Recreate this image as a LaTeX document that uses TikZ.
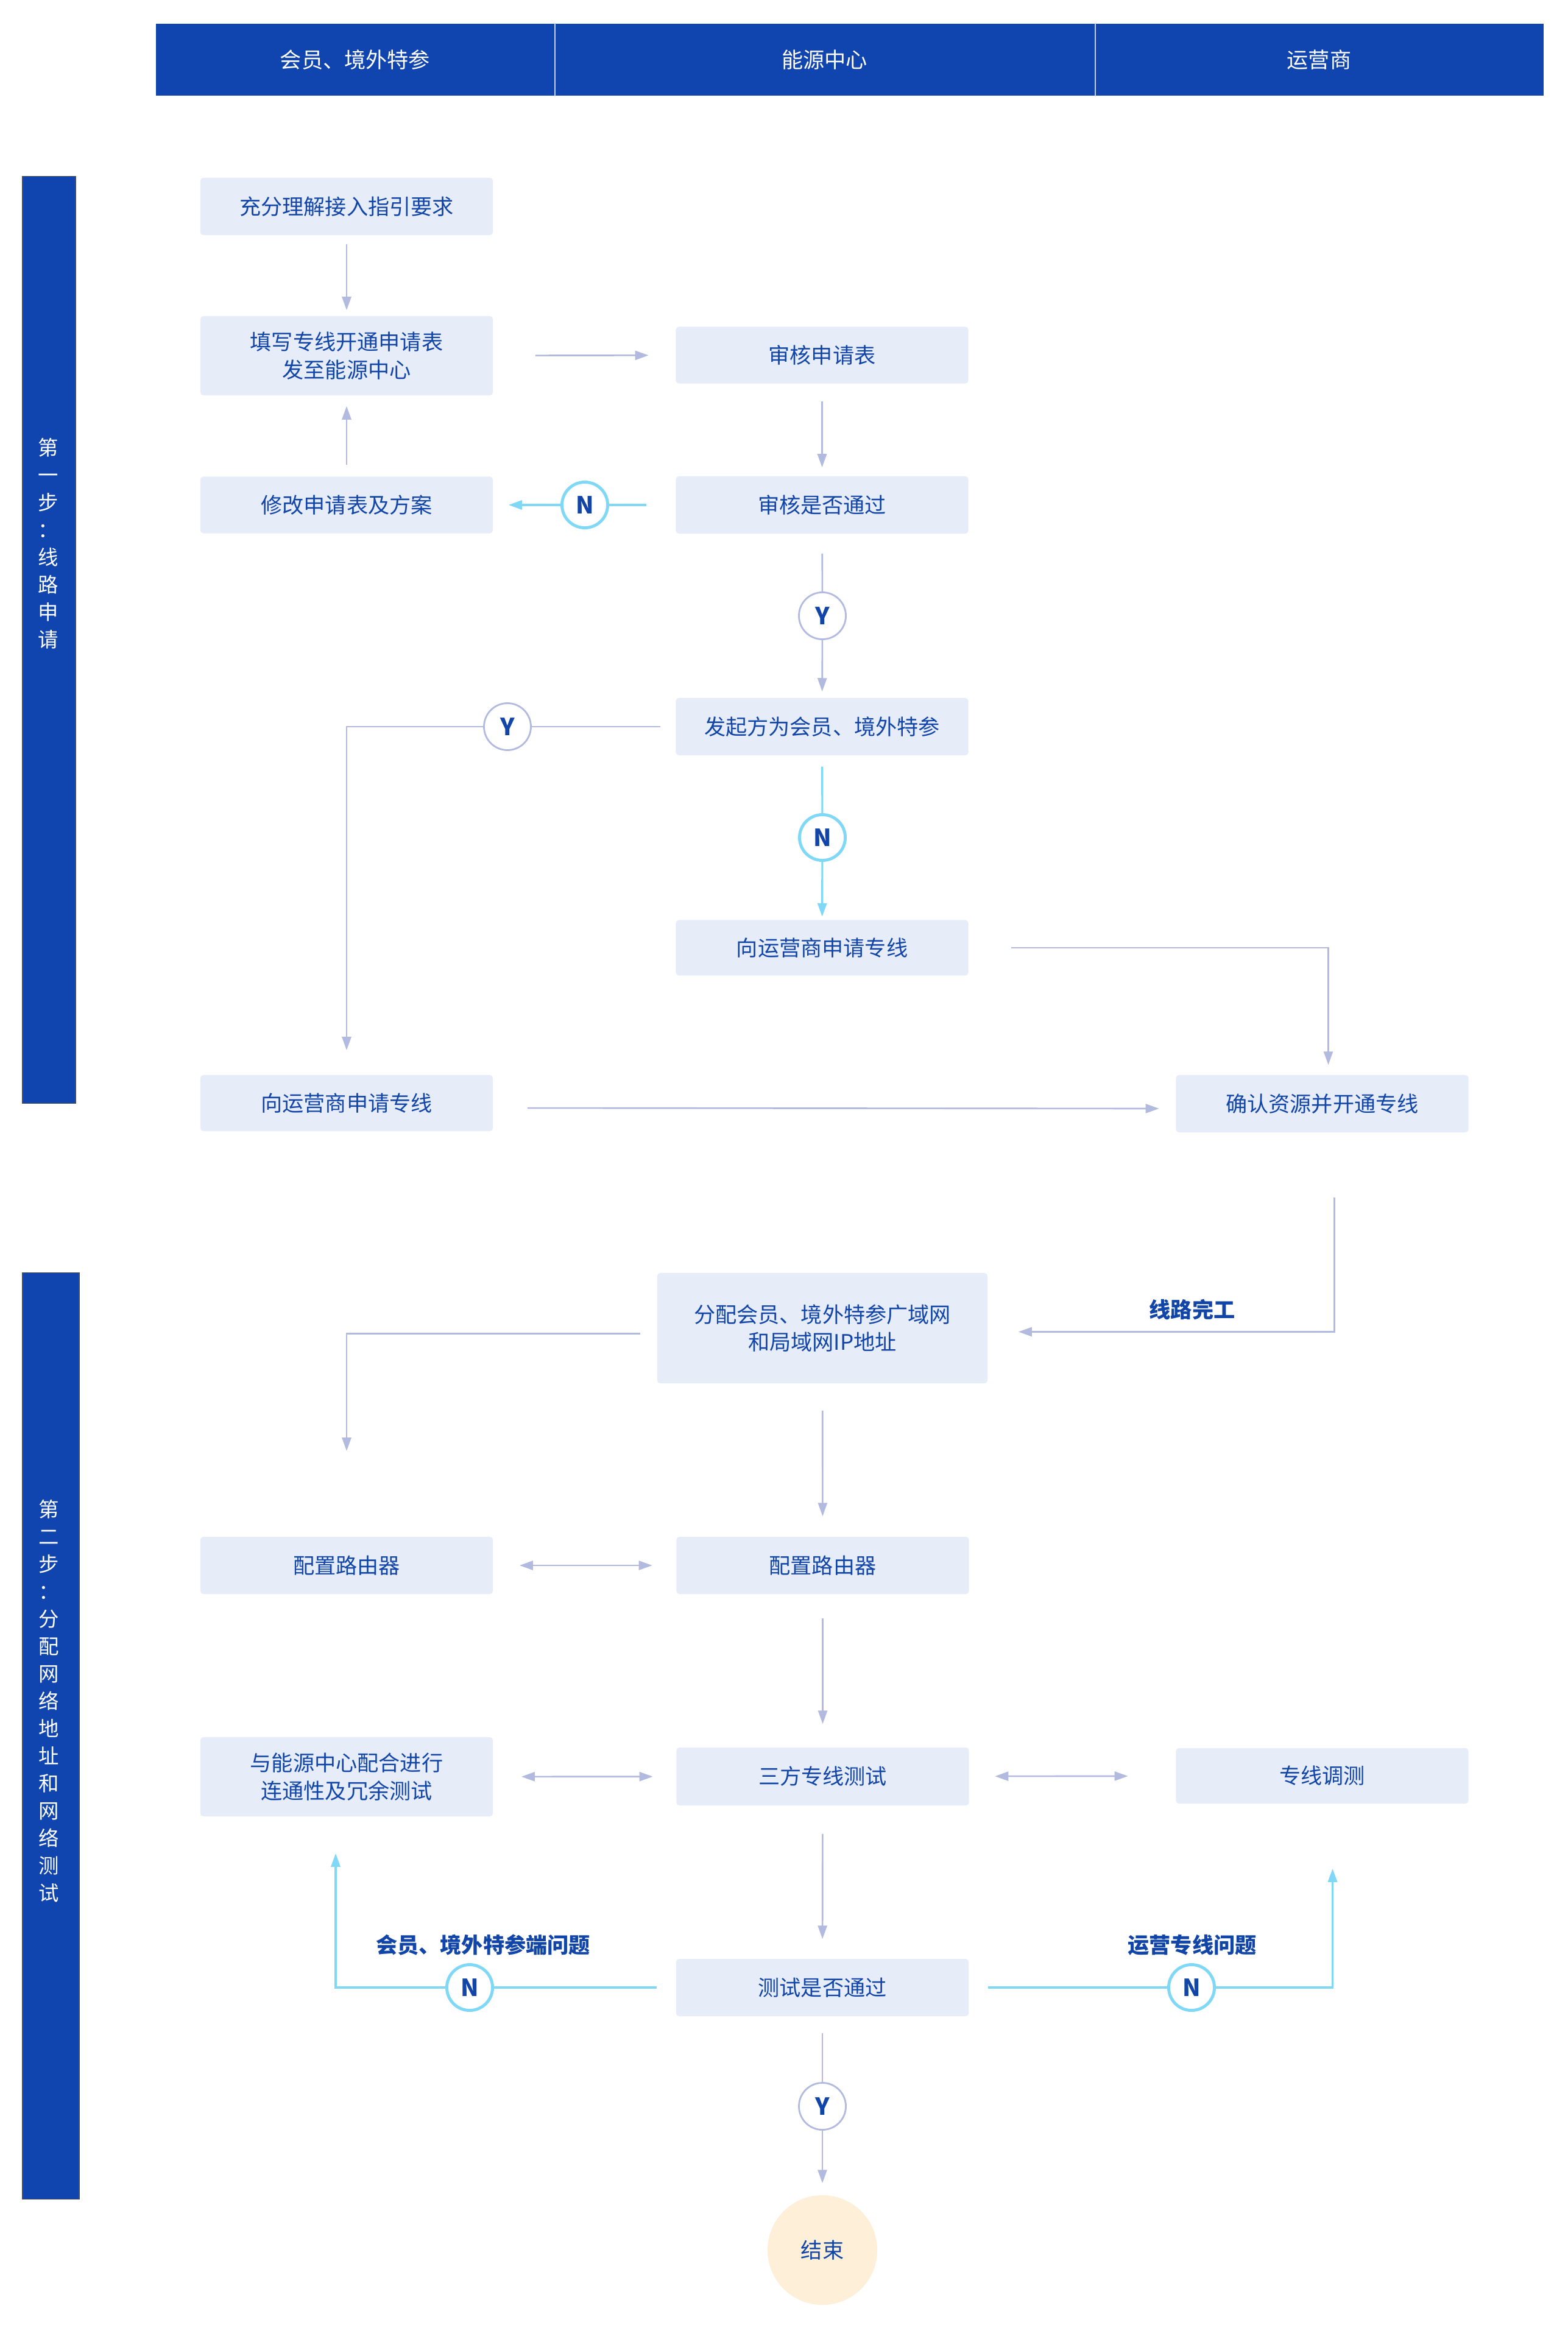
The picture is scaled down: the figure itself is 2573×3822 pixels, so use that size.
\documentclass[tikz,border=0pt]{standalone}
\usepackage{fontspec}
\setmainfont{Noto Sans CJK SC}
\usetikzlibrary{arrows.meta}
\definecolor{hdr}{HTML}{1044AE}
\definecolor{boxfill}{HTML}{E6ECF8}
\definecolor{txt}{HTML}{1245A8}
\definecolor{lav}{HTML}{B3BAE0}
\definecolor{cyn}{HTML}{7FD8F6}
\definecolor{endfill}{HTML}{FDEFD8}
\begin{document}
\begin{tikzpicture}[x=0.01cm,y=-0.01cm,
  hdrcell/.style={fill=hdr, minimum height=1.18cm, inner sep=0pt, text=white, font=\fontsize{10}{13}\selectfont},
  bar/.style={fill=hdr, draw=black!70, line width=0.5pt, inner sep=0pt},
  bartext/.style={text=white, align=center, inner sep=0pt, font=\fontsize{9.5}{12.8}\selectfont},
  box/.style={fill=boxfill, rounded corners=0.05cm, minimum width=4.8cm, text=txt, font=\fontsize{10}{13}\selectfont, align=center, inner sep=0pt},
  yc/.style={circle, draw=lav, line width=0.8pt, fill=white, minimum size=0.77cm, inner sep=0pt, text=txt, font=\fontsize{11}{13}\selectfont\bfseries},
  nc/.style={circle, draw=cyn, line width=1.4pt, fill=white, minimum size=0.75cm, inner sep=0pt, text=txt, font=\fontsize{11}{13}\selectfont\bfseries},
  endc/.style={circle, fill=endfill, minimum size=1.8cm, inner sep=0pt, text=txt, font=\fontsize{10}{13}\selectfont},
  lbl/.style={text=txt, inner sep=0pt, font=\fontsize{10}{13}\selectfont\bfseries},
  lavline/.style={draw=lav, line width=0.75pt},
  cynline/.style={draw=cyn, line width=0.9pt},
  tip/.style={-{Triangle[length=0.22cm,width=0.15cm]}},
  dtip/.style={{Triangle[length=0.22cm,width=0.15cm]}-{Triangle[length=0.22cm,width=0.15cm]}}
]
\path[use as bounding box, fill=white] (0,0) rectangle (2573,3822);

% header
\node[hdrcell, minimum width=6.54cm] (H1) at (583,98) {会员、境外特参};
\node[hdrcell, minimum width=8.87cm] (H2) at (1353.5,98) {能源中心};
\node[hdrcell, minimum width=7.37cm] (H3) at (2165.5,98) {运营商};
\draw[white!75!hdr, line width=0.6pt] (H1.north east) -- (H1.south east);
\draw[white!75!hdr, line width=0.6pt] (H2.north east) -- (H2.south east);

% side bars
\node[bar, minimum width=0.87cm, minimum height=15.21cm] (S1) at (80.5,1050.5) {};
\node[bartext] (S1t) at (79,892) {第\\一\\步\\：\\线\\路\\申\\请};
\node[bar, minimum width=0.93cm, minimum height=15.20cm] (S2) at (83.5,2850) {};
\node[bartext] (S2t) at (80,2793) {第\\二\\步\\：\\分\\配\\网\\络\\地\\址\\和\\网\\络\\测\\试};

% boxes section 1
\node[box, minimum height=0.94cm] (A1) at (569,339) {充分理解接入指引要求};
\node[box, minimum height=1.30cm] (A2) at (569,584) {填写专线开通申请表\\发至能源中心};
\node[box, minimum height=0.93cm] (B1) at (1349.5,583) {审核申请表};
\node[box, minimum height=0.93cm] (A3) at (569,829) {修改申请表及方案};
\node[box, minimum height=0.94cm] (B2) at (1349.5,829) {审核是否通过};
\node[box, minimum height=0.94cm] (B3) at (1349.5,1193) {发起方为会员、境外特参};
\node[box, minimum height=0.91cm] (B4) at (1349.5,1556) {向运营商申请专线};
\node[box, minimum height=0.92cm] (A4) at (569,1811) {向运营商申请专线};
\node[box, minimum height=0.94cm] (C1) at (2170.5,1812) {确认资源并开通专线};

% boxes section 2
\node[box, minimum width=5.42cm, minimum height=1.81cm] (B5) at (1350,2180.5) {分配会员、境外特参广域网\\和局域网IP地址};
\node[box, minimum height=0.94cm] (A5) at (569,2570) {配置路由器};
\node[box, minimum height=0.94cm] (B6) at (1350.5,2570) {配置路由器};
\node[box, minimum height=1.30cm] (A6) at (569,2917) {与能源中心配合进行\\连通性及冗余测试};
\node[box, minimum height=0.95cm] (B7) at (1350.5,2916.5) {三方专线测试};
\node[box, minimum height=0.91cm] (C2) at (2170.5,2915.5) {专线调测};
\node[box, minimum height=0.94cm] (B8) at (1350,3263) {测试是否通过};
\node[endc] (End) at (1350,3694) {结束};

% decision circles
\node[nc] (N1) at (960,829) {N};
\node[yc] (Y1) at (1350,1011) {Y};
\node[yc] (Y2) at (833,1193) {Y};
\node[nc] (N2) at (1350,1375) {N};
\node[nc] (N3) at (771,3263) {N};
\node[nc] (N4) at (1956,3263) {N};
\node[yc] (Y3) at (1350,3458) {Y};

% labels
\node[lbl] (L1) at (1957,2150) {线路完工};
\node[lbl] (L2) at (793,3193) {会员、境外特参端问题};
\node[lbl] (L3) at (1957,3193) {运营专线问题};

% connectors section 1
\draw[lavline, tip, shorten <=0.14cm, shorten >=0.09cm] (A1) -- (A2);
\draw[lavline, tip, shorten <=0.69cm, shorten >=0.44cm] (A2) -- (B1);
\draw[lavline, tip, shorten <=0.19cm, shorten >=0.17cm] (A3) -- (A2);
\draw[lavline, tip, shorten <=0.29cm, shorten >=0.14cm] (B1) -- (B2);
\draw[cynline, shorten <=0.48cm] (B2) -- (N1);
\draw[cynline, tip, shorten >=0.25cm] (N1) -- (A3);
\draw[lavline, shorten <=0.32cm] (B2) -- (Y1);
\draw[lavline, tip, shorten >=0.10cm] (Y1) -- (B3);
\draw[lavline, shorten <=0.25cm] (B3) -- (Y2);
\draw[lavline, tip, shorten >=0.40cm] (Y2) -| (A4);
\draw[cynline, shorten <=0.18cm] (B3) -- (N2);
\draw[cynline, tip, shorten >=0.05cm] (N2) -- (B4);
\draw[lavline, tip, shorten <=0.70cm, shorten >=0.16cm] (B4) -| ([xshift=0.1cm]C1.north);
\draw[lavline, tip, shorten <=0.56cm, shorten >=0.27cm] ([yshift=-0.08cm]A4.east) -- ([yshift=-0.08cm]C1.west);

% connectors section 2
\draw[lavline, tip, shorten <=1.06cm, shorten >=0.50cm] ([xshift=0.2cm]C1.south) |- ([yshift=-0.06cm]B5.east);
\draw[lavline, tip, shorten <=0.27cm, shorten >=1.40cm] ([yshift=-0.09cm]B5.west) -| (A5.north);
\draw[lavline, tip, shorten <=0.44cm, shorten >=0.33cm] (B5) -- (B6);
\draw[lavline, dtip, shorten <=0.43cm, shorten >=0.39cm] (A5) -- (B6);
\draw[lavline, tip, shorten <=0.39cm, shorten >=0.38cm] (B6) -- (B7);
\draw[lavline, dtip, shorten <=0.46cm, shorten >=0.38cm] (A6) -- (B7);
\draw[lavline, dtip, shorten <=0.42cm, shorten >=0.78cm] (B7) -- (C2);
\draw[lavline, tip, shorten <=0.46cm, shorten >=0.32cm] (B7) -- (B8);
\draw[cynline, shorten <=0.31cm] (B8) -- (N3);
\draw[cynline, tip, shorten >=0.60cm] (N3) -| ([xshift=-0.18cm]A6.south);
\draw[cynline, shorten <=0.31cm] (B8) -- (N4);
\draw[cynline, tip, shorten >=1.06cm] (N4) -| ([xshift=0.17cm]C2.south);
\draw[lavline, shorten <=0.27cm] (B8) -- (Y3);
\draw[lavline, tip, shorten >=0.19cm] (Y3) -- (End);
\end{tikzpicture}
\end{document}
